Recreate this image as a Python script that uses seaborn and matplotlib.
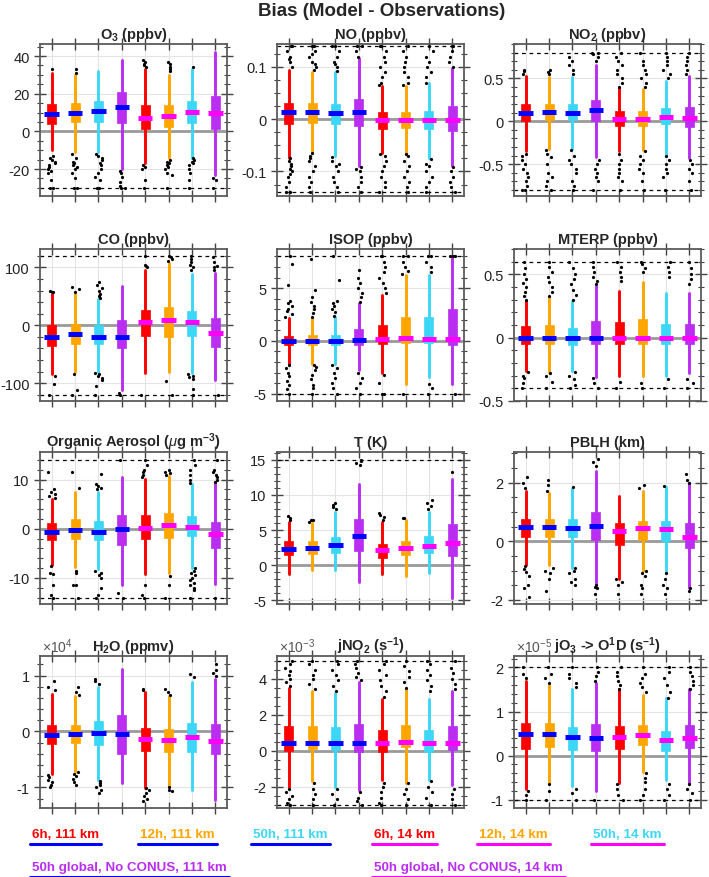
import numpy as np
import pandas as pd
import matplotlib
matplotlib.use('Agg')
import matplotlib.pyplot as plt
from matplotlib.lines import Line2D
from matplotlib.ticker import MultipleLocator, FuncFormatter
import seaborn as sns

sns.set_style('white')
plt.rcParams['font.family'] = ['Liberation Sans', 'DejaVu Sans']
plt.rcParams['axes.unicode_minus'] = False
plt.rcParams['mathtext.fontset'] = 'custom'
plt.rcParams['mathtext.rm'] = 'Liberation Sans'
plt.rcParams['mathtext.bf'] = 'Liberation Sans:bold'
plt.rcParams['mathtext.it'] = 'Liberation Sans:italic'
np.random.seed(3)

runs = ['6h, 111 km', '12h, 111 km', '50h, 111 km', '50h global, No CONUS, 111 km',
        '6h, 14 km', '12h, 14 km', '50h, 14 km', '50h global, No CONUS, 14 km']
box_colors = ['#ff0000', '#ffa500', '#3cd6f6', '#b92ef0'] * 2
med_colors = ['#0000ff'] * 4 + ['#ff00ff'] * 4
positions = np.arange(1, 9)

# box rows: whisker low, q1, median, q3, whisker high
o3_box = [[-10, -11, -11, -20, -17, -14, -14, -23],
          [4, 5, 5, 4.5, 1.5, 2.5, 4.5, 1.5],
          [9.5, 10, 11, 13, 7, 8, 10.5, 10],
          [14.5, 15, 16, 21, 14, 14, 16, 19],
          [31, 30, 32, 38, 33, 30, 33, 42]]
o3_out = [[33, -13, -14, -15, -16, -17, -18, -19, -20, -21, -22, -26, -30, -30],
          [31, 33, -12, -14, -16, -17, -18, -19, -20, -22, -25, -30, -30],
          [-12, -13, -14, -15, -17, -18, -20, -22, -24, -26, -30, -30],
          [-21, -22, -24, -27, -29, -30, -30],
          [34, 35, 36, 37, 38, -18, -19, -20, -26, -30],
          [32, 33, 34, 36, 37, -15, -16, -17, -18, -19, -20, -22, -23, -30],
          [34, -14, -15, -16, -17, -18, -20, -22, -26, -30],
          [-25, -26, -30]]

no_box = [[-0.075, -0.065, -0.07, -0.09, -0.065, -0.065, -0.075, -0.09],
          [-0.01, -0.008, -0.009, -0.013, -0.018, -0.017, -0.019, -0.022],
          [0.013, 0.013, 0.012, 0.014, -0.001, -0.001, -0.001, -0.001],
          [0.031, 0.031, 0.03, 0.039, 0.014, 0.014, 0.016, 0.025],
          [0.095, 0.09, 0.09, 0.118, 0.063, 0.063, 0.069, 0.098]]
no_out = [[0.10, 0.11, 0.115, 0.12, 0.13, 0.14, 0.14, -0.075, -0.08, -0.085, -0.09, -0.095, -0.1, -0.105, -0.11, -0.12, -0.13, -0.14, -0.14],
          [0.095, 0.1, 0.105, 0.11, 0.12, 0.125, 0.13, 0.14, 0.14, -0.065, -0.07, -0.075, -0.08, -0.09, -0.1, -0.11, -0.12, -0.13, -0.14],
          [0.092, 0.1, 0.105, 0.11, 0.12, 0.13, 0.14, 0.14, -0.072, -0.08, -0.085, -0.09, -0.1, -0.11, -0.12, -0.13, -0.14],
          [0.12, 0.13, 0.14, 0.14, -0.092, -0.095, -0.1, -0.11, -0.12, -0.13, -0.14],
          [0.065, 0.07, 0.08, 0.09, 0.1, 0.11, 0.12, 0.13, 0.14, 0.14, -0.066, -0.07, -0.08, -0.09, -0.1, -0.11, -0.12, -0.13, -0.14],
          [0.065, 0.07, 0.08, 0.09, 0.1, 0.11, 0.12, 0.13, 0.14, -0.066, -0.07, -0.08, -0.09, -0.1, -0.11, -0.12, -0.13, -0.14],
          [0.07, 0.08, 0.09, 0.1, 0.11, 0.12, 0.13, 0.14, -0.076, -0.085, -0.09, -0.1, -0.11, -0.12, -0.13, -0.14],
          [0.1, 0.11, 0.12, 0.13, 0.14, 0.14, -0.092, -0.1, -0.11, -0.12, -0.13, -0.14]]

no2_box = [[-0.35, -0.32, -0.32, -0.42, -0.35, -0.33, -0.38, -0.43],
           [0.0, 0.02, 0.01, 0.0, -0.06, -0.05, -0.03, -0.07],
           [0.1, 0.11, 0.1, 0.13, 0.03, 0.03, 0.05, 0.04],
           [0.2, 0.2, 0.2, 0.25, 0.12, 0.12, 0.15, 0.17],
           [0.53, 0.52, 0.52, 0.66, 0.39, 0.38, 0.47, 0.53]]
no2_out = [[0.55, 0.58, 0.6, -0.38, -0.4, -0.45, -0.5, -0.55, -0.6, -0.65, -0.7, -0.75, -0.8, -0.8],
           [0.55, 0.57, 0.6, -0.33, -0.38, -0.42, -0.5, -0.6, -0.65, -0.7, -0.75, -0.8],
           [0.55, 0.6, 0.65, 0.7, 0.75, -0.33, -0.4, -0.45, -0.5, -0.55, -0.6, -0.7, -0.75, -0.8],
           [0.7, 0.75, 0.78, 0.8, 0.8, -0.45, -0.5, -0.55, -0.6, -0.65, -0.7, -0.8],
           [0.4, 0.45, 0.5, 0.55, 0.6, 0.65, 0.7, 0.75, 0.8, -0.38, -0.45, -0.5, -0.55, -0.6, -0.65, -0.7, -0.8],
           [0.4, 0.45, 0.5, 0.55, 0.6, 0.65, 0.7, 0.8, -0.35, -0.4, -0.45, -0.5, -0.55, -0.6, -0.7, -0.8],
           [0.5, 0.55, 0.6, 0.65, 0.7, 0.75, 0.8, -0.4, -0.45, -0.5, -0.55, -0.6, -0.65, -0.8],
           [0.55, 0.6, 0.65, 0.7, 0.75, 0.8, -0.45, -0.5, -0.55, -0.6, -0.7, -0.8]]

co_box = [[-85, -80, -80, -112, -83, -80, -82, -95],
          [-35, -33, -33, -40, -18, -20, -18, -38],
          [-20, -15, -20, -21, 5, 9, 5, -13],
          [0, 3, 0, 10, 27, 32, 25, 13],
          [55, 55, 45, 68, 95, 108, 88, 90]]
co_out = [[57, 58, 60, -88, -102, -120],
          [58, 62, 66, -85, -112, -120],
          [47, 50, 55, 60, 65, 70, 75, -82, -85, -88, -92, -95, -105, -120],
          [-118, -120],
          [100, 103, 105, 120, -120],
          [112, 115, 118, 120, -96, -120],
          [95, 100, 105, 110, 115, 120, -85, -88, -90, -93, -110, -120],
          [95, 100, 103, 110, 118, -120]]

isop_box = [[-2.2, -2.2, -2.2, -2.8, -3.0, -4.1, -3.4, -4.1],
            [-0.4, -0.4, -0.4, -0.4, -0.3, -0.2, -0.2, -0.4],
            [0.0, 0.0, 0.0, 0.1, 0.2, 0.3, 0.2, 0.2],
            [0.5, 0.6, 0.6, 1.1, 1.5, 2.3, 2.3, 3.0],
            [2.2, 2.2, 2.3, 3.6, 4.3, 6.2, 6.2, 8.0]]
isop_out = [[2.3, 2.5, 2.8, 3.0, 3.3, 3.6, 3.8, 5.3, 7.3, 8, -2.3, -2.6, -3.0, -3.3, -3.8, -4.2, -4.6, -5],
            [2.3, 2.6, 3.0, 3.3, 3.7, 4.2, 4.8, 7.8, -2.3, -2.5, -2.8, -3.2, -3.6, -4.2, -4.5, -5],
            [2.4, 2.7, 3.0, 3.3, 3.6, 3.8, 5.8, 8, -2.3, -2.6, -3.0, -3.5, -4.0, -4.5, -5],
            [3.7, 4.2, 4.5, 5, 5.5, 6, 6.7, -3.0, -3.5, -4.0, -4.5, -5],
            [4.5, 5, 5.5, 6, 6.5, 7, 7.5, 8, 8, -3.2, -4, -5, -5],
            [6.3, 6.6, 7, 7.5, 8, 8, -5],
            [6.5, 7, 7.5, 8, 8, -4.1, -4.5, -5],
            [8, 8, 8, -5]]

mterp_box = [[-0.26, -0.27, -0.26, -0.31, -0.3, -0.3, -0.3, -0.28],
             [-0.05, -0.05, -0.06, -0.05, -0.05, -0.05, -0.05, -0.05],
             [-0.005, -0.005, -0.005, 0.0, -0.003, 0.0, -0.003, -0.005],
             [0.09, 0.1, 0.08, 0.13, 0.12, 0.15, 0.11, 0.11],
             [0.29, 0.32, 0.29, 0.41, 0.37, 0.44, 0.35, 0.35]]
mterp_out = [[0.3, 0.33, 0.36, 0.4, 0.43, 0.46, 0.5, 0.55, 0.6, -0.27, -0.3, -0.32, -0.36, -0.4],
             [0.33, 0.36, 0.4, 0.44, 0.48, 0.52, 0.56, 0.6, -0.28, -0.3, -0.35, -0.4],
             [0.3, 0.34, 0.38, 0.42, 0.46, 0.5, 0.55, 0.6, -0.27, -0.3, -0.33, -0.37, -0.4],
             [0.42, 0.45, 0.48, 0.52, 0.56, 0.6, -0.32, -0.36, -0.4],
             [0.45, 0.48, 0.52, 0.56, 0.6, -0.35, -0.4],
             [0.52, 0.55, 0.58, 0.6, -0.36, -0.4],
             [0.48, 0.52, 0.56, 0.6, -0.33, -0.4],
             [0.42, 0.46, 0.5, 0.55, 0.6, -0.33, -0.36, -0.4]]

oa_box = [[-7.3, -7.8, -8.2, -11.5, -9.2, -9.0, -7.9, -11.2],
          [-2.2, -2.0, -2.3, -3.3, -2.0, -1.8, -1.5, -3.9],
          [-0.7, -0.2, -0.7, -0.1, 0.1, 0.7, 0.4, -1.1],
          [1.1, 1.9, 1.5, 2.7, 2.8, 3.2, 2.6, 1.3],
          [6.1, 7.5, 7.5, 10.6, 10.2, 10.8, 9.1, 9.3]]
oa_out = [[6.3, 6.6, 7, 7.5, 8, 11.5, -7.5, -9, -9.3, -11.5, -13.5, -14],
          [8.2, 11.5, -8.5, -9, -11.5, -11.5, -14],
          [8, 8.3, 8.6, 9, 11.2, -8.5, -9, -9.5, -10, -12, -13.5, -14],
          [14, -13, -14],
          [10.5, 11, 11.5, 12, 13, 14, -11.5, -13.5, -14],
          [11, 11.3, 11.6, 12, -9.6, -11.5, -14],
          [9.3, 10, 11, 12, 13, 14, -8, -8.5, -9, -9.5, -10, -10.5, -11, -11.5, -12, -12.5, -14],
          [9.5, 10, 10.5, 11, 11.5, 12, 14, -14]]

t_box = [[-1.3, -0.6, -0.7, -2.4, -1.3, -1.5, -1.1, -4.7],
         [1.5, 1.6, 1.8, 2.1, 1.0, 1.4, 1.8, 1.3],
         [2.3, 2.4, 2.9, 4.2, 2.2, 2.5, 2.8, 3.2],
         [3.4, 3.4, 4.0, 6.6, 3.0, 3.4, 4.1, 5.8],
         [6.2, 6.0, 7.6, 11.6, 6.1, 6.5, 7.6, 12.3]]
t_out = [[6.5, 6.7, 7],
         [6.2, 6.4, 6.5],
         [8, 8.3, 8.6, 8.8],
         [14.2, 14.5, 14.8, 15],
         [6.4, 6.8, 7.2, 7.5],
         [6.7, 6.7],
         [8, 8.4, 8.8, 9.3],
         [13.3]]

pblh_box = [[-0.8, -0.8, -0.9, -1.5, -1.3, -1.0, -1.1, -1.6],
            [0.15, 0.15, 0.15, 0.05, -0.12, 0.05, 0.0, -0.22],
            [0.47, 0.5, 0.45, 0.52, 0.35, 0.45, 0.42, 0.15],
            [0.76, 0.76, 0.77, 1.0, 0.62, 0.7, 0.7, 0.63],
            [1.7, 1.65, 1.8, 2.4, 1.55, 1.7, 1.85, 2.0]]
pblh_out = [[1.8, 2.0, 2.2, -0.85, -0.95, -1.05, -1.2, -1.5, -1.6, -1.9],
            [1.7, 1.9, 2.1, -0.9, -1.0, -1.1, -1.3, -1.7],
            [1.85, -0.9, -1.0, -1.1, -1.3, -1.4, -1.5],
            [2.55, 2.7, 2.8, -1.5, -1.55, -1.6, -1.8],
            [-1.3, -1.4, -1.5, -1.8],
            [1.8, 1.9, -1.0, -1.1, -1.2, -1.5, -1.6, -1.8],
            [1.87, -1.1, -1.3, -1.5, -1.6, -1.8],
            [2.0, 2.1, 2.3, -1.6, -1.7]]

# H2O in units of 1e4 ppmv
h2o_box = [[-0.77, -0.72, -0.87, -0.92, -1.01, -0.97, -1.04, -1.22],
           [-0.22, -0.21, -0.24, -0.4, -0.35, -0.37, -0.36, -0.41],
           [-0.07, -0.05, -0.02, -0.04, -0.13, -0.16, -0.1, -0.17],
           [0.12, 0.12, 0.18, 0.29, 0.07, 0.05, 0.16, 0.14],
           [0.67, 0.63, 0.8, 1.11, 0.7, 0.63, 0.88, 0.94]]
h2o_out = [[0.75, 0.8, 0.9, -0.78, -0.82, -0.86, -0.9, -0.95, -1.0],
           [0.65, 0.7, 0.8, -0.73, -0.77, -0.8, -0.85, -0.9, -0.95],
           [0.85, 0.9, 0.93, -0.88, -0.92, -0.95, -1.0, -1.05, -1.1],
           [],
           [0.75, 0.76, -1.02, -1.05, -1.1, -1.15, -1.2, -1.25],
           [0.66, 0.7, 0.76, -1.0, -1.05, -1.07],
           [0.98, 1.02],
           [1.0, 1.05, 1.1, 1.2]]

# jNO2 in units of 1e-3 s-1
jno2_box = [[-2.0, -1.7, -2.0, -2.2, -1.6, -1.8, -1.6, -1.9],
            [0.0, 0.1, 0.05, -0.05, -0.05, 0.2, -0.05, 0.05],
            [0.45, 0.45, 0.45, 0.42, 0.45, 0.5, 0.45, 0.45],
            [1.35, 1.35, 1.3, 1.5, 1.15, 1.45, 1.15, 1.35],
            [3.5, 3.3, 3.2, 3.8, 2.9, 3.4, 2.85, 3.3]]
jno2_out = [[3.6, 3.8, 4.0, 4.2, 4.4, 4.6, 4.8, 5, -2.1, -2.3, -2.5, -2.7, -2.9, -3],
            [3.4, 3.7, 4.0, 4.2, 4.5, 4.8, 5, -1.8, -2.1, -2.4, -2.7, -3],
            [3.3, 3.6, 3.9, 4.2, 4.5, 4.8, 5, -2.1, -2.4, -2.7, -3],
            [3.9, 4.1, 4.3, 4.6, 4.8, 5, -2.3, -2.6, -2.8, -3],
            [3.0, 3.3, 3.6, 3.9, 4.2, 4.5, 4.8, 5, -1.8, -2.0, -2.3, -2.6, -2.9, -3],
            [3.5, 3.8, 4.1, 4.4, 4.7, 5, -1.8, -2.1, -2.4, -2.7, -3],
            [3.3, 3.6, 3.9, 4.2, 4.5, 4.8, 5, -1.7, -2.0, -2.3, -2.6, -3],
            [3.4, 3.7, 4.0, 4.3, 4.6, 5, -2.1, -2.4, -2.7, -3]]

# jO3 -> O1D in units of 1e-5 s-1
jo3_box = [[-0.75, -0.62, -0.7, -0.8, -0.62, -0.38, -0.55, -0.65],
           [0.15, 0.2, 0.12, 0.1, 0.15, 0.23, 0.1, 0.17],
           [0.49, 0.48, 0.42, 0.41, 0.43, 0.46, 0.36, 0.41],
           [0.75, 0.74, 0.65, 0.72, 0.67, 0.7, 0.56, 0.7],
           [1.7, 1.6, 1.5, 1.65, 1.5, 1.38, 1.3, 1.5]]
jo3_out = [[1.75, 1.85, 2, -0.8, -0.9, -1],
           [1.65, 1.75, 1.85, 2, -0.65, -0.8, -1],
           [1.55, 1.65, 1.75, 1.85, 2, -0.75, -0.85, -1],
           [1.7, 1.8, 1.9, 2, -1],
           [1.5, 1.6, 1.7, 1.8, 1.9, 2, -0.65, -0.75, -0.9, -1],
           [1.45, 1.55, 1.65, 1.75, 1.85, 2, -0.4, -0.5, -0.6, -0.75, -0.9, -1],
           [1.3, 1.45, 1.6, 1.75, 1.9, 2, -0.65, -0.75, -0.9, -1],
           [1.5, 1.6, 1.7, 1.8, 1.9, 2, -0.65, -0.75, -0.85, -1]]

# title, box, outliers, ylim, yticks, minor step, dashed limits, exponent
panels = [
    (r'O$_\mathbf{3}$ (ppbv)', o3_box, o3_out, (-34.3, 46.4), [-20, 0, 20, 40], 5, [-30], None),
    ('NO (ppbv)', no_box, no_out, (-0.147, 0.144), [-0.1, 0, 0.1], 0.025, [-0.14, 0.14], None),
    (r'NO$_\mathbf{2}$ (ppbv)', no2_box, no2_out, (-0.87, 0.9), [-0.5, 0, 0.5], 0.1, [-0.8, 0.8], None),
    ('CO (ppbv)', co_box, co_out, (-131, 132), [-100, 0, 100], 20, [-120, 120], None),
    ('ISOP (ppbv)', isop_box, isop_out, (-5.7, 8.7), [-5, 0, 5], 1, [-5, 8], None),
    ('MTERP (ppbv)', mterp_box, mterp_out, (-0.5, 0.7), [-0.5, 0, 0.5], 0.1, [-0.4, 0.6], None),
    (r'Organic Aerosol ($\mu$g m$^\mathbf{-3}$)', oa_box, oa_out, (-15.3, 15.6), [-10, 0, 10], 2, [-14, 14], None),
    ('T (K)', t_box, t_out, (-5.5, 16.1), [-5, 0, 5, 10, 15], 1, [15], None),
    ('PBLH (km)', pblh_box, pblh_out, (-2.14, 3.04), [-2, 0, 2], 0.5, [], None),
    (r'H$_\mathbf{2}$O (ppmv)', h2o_box, h2o_out, (-1.37, 1.35), [-1, 0, 1], 0.2, [], r'$\times10^{4}$'),
    (r'jNO$_\mathbf{2}$ (s$^\mathbf{-1}$)', jno2_box, jno2_out, (-3.18, 5.26), [-2, 0, 2, 4], 0.5, [-3, 5], r'$\times10^{-3}$'),
    (r'jO$_\mathbf{3}$ -> O$^\mathbf{1}$D (s$^\mathbf{-1}$)', jo3_box, jo3_out, (-1.19, 2.26), [-1, 0, 1, 2], 0.2, [-1, 2], r'$\times10^{-5}$'),
]

W, H = 709, 878
fig = plt.figure(figsize=(W / 100, H / 100), dpi=100)
col_left = [40, 277, 514]
row_top = [45, 250, 453, 657]
aw, ah = 187, 152

for k, (title, box, out, ylim, yticks, minor, dashed, expo) in enumerate(panels):
    r, c = divmod(k, 3)
    ax = fig.add_axes([col_left[c] / W, 1 - (row_top[r] + ah) / H, aw / W, ah / H])
    ax.set_axisbelow(True)
    ax.grid(True, color='#e4e4e4', lw=0.8)
    ax.axhline(0, color='#9a9a9a', lw=2, zorder=1)
    for y in dashed:
        ax.axhline(y, color='k', ls=(0, (3, 3)), lw=0.9, zorder=1)

    stats = [dict(whislo=box[0][i], q1=box[1][i], med=box[2][i], q3=box[3][i], whishi=box[4][i])
             for i in range(8)]
    res = ax.bxp(stats, positions=positions, widths=0.38, showfliers=False, showcaps=False,
                 patch_artist=True, manage_ticks=False,
                 boxprops=dict(linewidth=0.5), whiskerprops=dict(linewidth=2.1),
                 medianprops=dict(visible=False))
    for i in range(8):
        res['boxes'][i].set_facecolor(box_colors[i])
        res['boxes'][i].set_edgecolor(box_colors[i])
        res['whiskers'][2 * i].set_color(box_colors[i])
        res['whiskers'][2 * i + 1].set_color(box_colors[i])

    df = pd.DataFrame([(positions[i], v) for i, vals in enumerate(out) for v in vals],
                      columns=['pos', 'val'])
    sns.stripplot(data=df, x='pos', y='val', native_scale=True, jitter=0.16, size=2.3,
                  color='k', linewidth=0, ax=ax, zorder=5)
    med_df = pd.DataFrame({'pos': positions, 'med': box[2], 'run': runs})
    sns.scatterplot(data=med_df, x='pos', y='med', hue='run', palette=med_colors, marker='_',
                    s=110, linewidth=3.6, legend=False, ax=ax, zorder=6)

    ax.set_xlim(0.5, 8.5)
    ax.set_ylim(*ylim)
    ax.set_xticks(positions)
    ax.set_xticklabels([])
    ax.set_yticks(yticks)
    ax.yaxis.set_minor_locator(MultipleLocator(minor))
    ax.yaxis.set_major_formatter(FuncFormatter(lambda v, p: '%g' % round(v, 6)))
    ax.set_xlabel('')
    ax.set_ylabel('')
    ax.tick_params(which='both', direction='inout', top=True, right=True, bottom=True, left=True,
                   colors='#444', labelcolor='#222', labelsize=10.5)
    ax.tick_params(which='major', length=8, width=1)
    ax.tick_params(which='minor', length=5, width=0.8)
    for s in ax.spines.values():
        s.set_color('#5a5a5a')
        s.set_linewidth(1.3)
    ax.set_title(title, fontsize=10.5, fontweight='bold', pad=4)
    if expo:
        ax.text(0.01, 1.005, expo, transform=ax.transAxes, ha='left', va='bottom',
                fontsize=10, color='#555')

fig.text(382 / W, 1 - 11 / H, 'Bias (Model - Observations)', ha='center', va='center',
         fontsize=13.5, fontweight='bold')

# legend: colored labels with underline in the median colour
legend_items = [(32, 835, 0), (140, 835, 1), (253, 835, 2), (374, 835, 4), (479, 835, 5),
                (593, 835, 6), (32, 868, 3), (374, 868, 7)]
fig.canvas.draw()
renderer = fig.canvas.get_renderer()
for x, y, i in legend_items:
    t = fig.text(x / W, 1 - y / H, runs[i], ha='left', va='center', fontsize=9.6,
                 fontweight='bold', color=box_colors[i])
    bb = t.get_window_extent(renderer)
    uy = 1 - (y + 10) / H
    fig.add_artist(Line2D([bb.x0 / W - 0.003, bb.x1 / W + 0.003], [uy, uy],
                          transform=fig.transFigure, color=med_colors[i], lw=2.2))

fig.savefig('out.png', dpi=100)
